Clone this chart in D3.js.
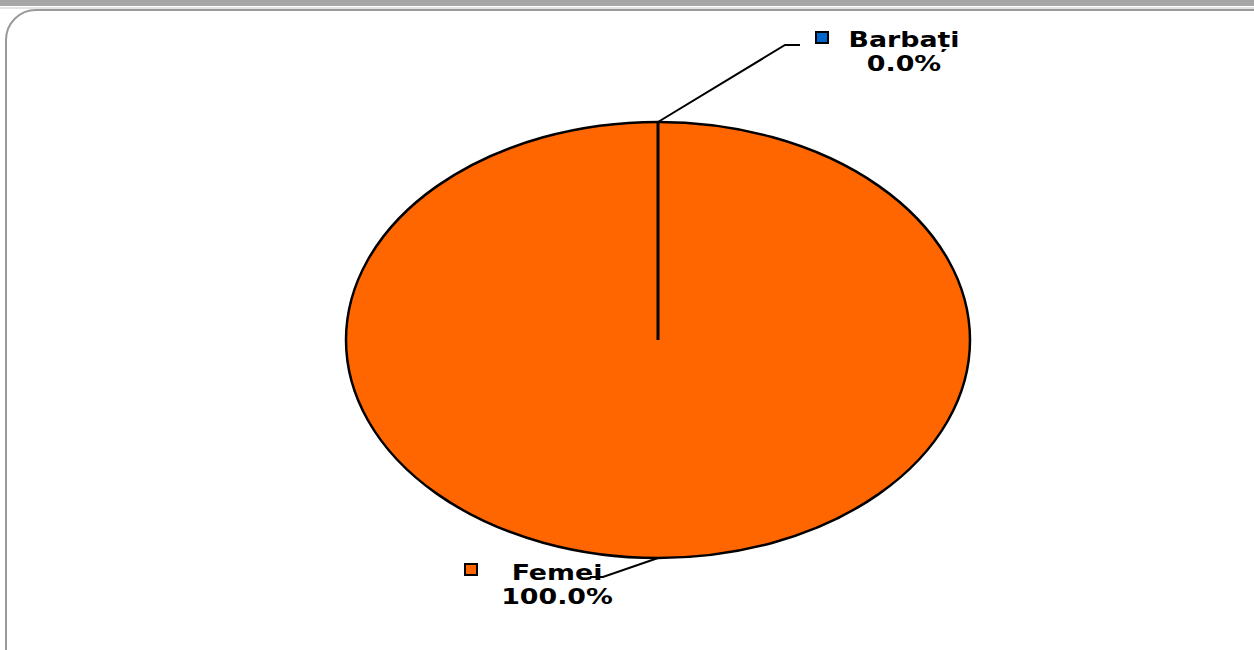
<!DOCTYPE html>
<html>
<head>
<meta charset="utf-8">
<script src="https://cdn.jsdelivr.net/npm/d3@7"></script>
<style>
  html, body { margin: 0; padding: 0; background: #fff; overflow: hidden; }
</style>
</head>
<body>
<script>
const categories = ["Barbați", "Femei"];
const values = [0, 100];
const colors = ["#0066CC", "#FF6600"];

const svgWidth = 1254;
const svgHeight = 650;

const cx = 658, cy = 340;
const rx = 312, ry = 218;

// label placement relative to the leader anchor on the ellipse
const labelOffset = {
  "Barbați": {elbow: [127, -77], end: [142, -77], text: [246, -75], marker: [158, -90]},
  "Femei": {elbow: [-55, 19], end: [-68, 19], text: [-101, 22], marker: [-193, 6]}
};

const svg = d3.select("body").append("svg")
  .attr("width", svgWidth)
  .attr("height", svgHeight)
  .style("display", "block");

// top gray strip and frame
svg.append("rect").attr("x", 0).attr("y", 0).attr("width", svgWidth).attr("height", 6).attr("fill", "#a6a6a6");
svg.append("line").attr("x1", 0).attr("x2", svgWidth).attr("y1", 8).attr("y2", 8)
  .attr("stroke", "#c8c8c8").attr("stroke-width", 1);
svg.append("rect")
  .attr("x", 6).attr("y", 10)
  .attr("width", 1280).attr("height", 700)
  .attr("rx", 30).attr("ry", 30)
  .attr("fill", "#fff")
  .attr("stroke", "#9a9a9a")
  .attr("stroke-width", 2);

const total = d3.sum(values);
const pct = v => `${(v / total * 100).toFixed(1)}%`;

const data = categories.map((c, i) => ({name: c, value: values[i], color: colors[i]}));
const pie = d3.pie().sort(null).value(d => d.value);
const arcs = pie(data);

const arcGen = d3.arc().innerRadius(0).outerRadius(rx);

const pieG = svg.append("g")
  .attr("transform", `translate(${cx},${cy}) scale(1,${ry / rx})`);

pieG.selectAll("path")
  .data(arcs.filter(a => a.endAngle - a.startAngle > 0))
  .join("path")
  .attr("d", arcGen)
  .attr("fill", d => d.data.color)
  .attr("stroke", "#000")
  .attr("stroke-width", 2.5)
  .attr("vector-effect", "non-scaling-stroke");

// point on the ellipse for an angle (0 = 12 o'clock, clockwise)
const onEllipse = a => [cx + rx * Math.sin(a), cy - ry * Math.cos(a)];

// slice boundary lines (full pie leaves one radial edge)
svg.append("g").selectAll("line")
  .data(arcs.filter(a => a.endAngle - a.startAngle < 2 * Math.PI))
  .join("line")
  .attr("x1", cx).attr("y1", cy)
  .attr("x2", d => onEllipse(d.startAngle)[0])
  .attr("y2", d => onEllipse(d.startAngle)[1])
  .attr("stroke", "#000")
  .attr("stroke-width", 3);

// labels
const labelG = svg.append("g");
arcs.forEach(a => {
  const mid = (a.startAngle + a.endAngle) / 2;
  const [ax, ay] = onEllipse(mid);
  const o = labelOffset[a.data.name];
  labelG.append("polyline")
    .attr("points", [[ax, ay], [ax + o.elbow[0], ay + o.elbow[1]], [ax + o.end[0], ay + o.end[1]]].map(p => p.join(",")).join(" "))
    .attr("fill", "none")
    .attr("stroke", "#000")
    .attr("stroke-width", 2);
  labelG.append("rect")
    .attr("x", ax + o.marker[0]).attr("y", ay + o.marker[1])
    .attr("width", 12).attr("height", 11)
    .attr("fill", a.data.color)
    .attr("stroke", "#000")
    .attr("stroke-width", 2);
  const t = labelG.append("text")
    .attr("transform", `translate(${ax + o.text[0]},${ay + o.text[1]}) scale(1.22,1)`)
    .attr("text-anchor", "middle")
    .style("font-family", "'DejaVu Sans', Verdana, sans-serif")
    .style("font-weight", "bold")
    .style("font-size", "22px")
    .attr("fill", "#000");
  t.append("tspan").attr("x", 0).text(a.data.name);
  t.append("tspan").attr("x", 0).attr("dy", 24).text(pct(a.data.value));
});
</script>
</body>
</html>
